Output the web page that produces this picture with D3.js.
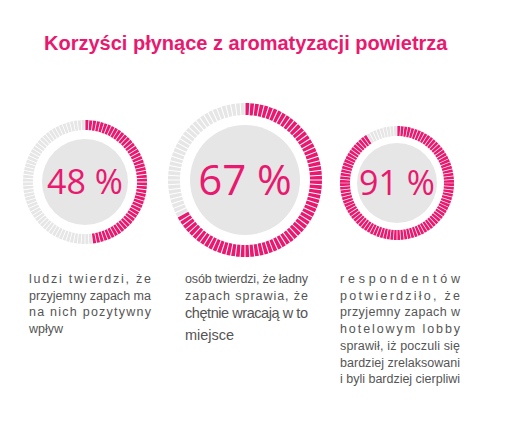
<!DOCTYPE html>
<html><head><meta charset="utf-8">
<script src="https://cdn.jsdelivr.net/npm/d3@7"></script>
<style>body{margin:0;background:#fff}</style></head>
<body><div id="chart"></div>
<script>
const title = 'Korzyści płynące z aromatyzacji powietrza';
const values = [48, 67, 91];
const valueLabels = ['48 %', '67 %', '91 %'];
const captions = [
  ['ludzi twierdzi, że', 'przyjemny zapach ma', 'na nich pozytywny', 'wpływ'],
  ['osób twierdzi, że ładny', 'zapach sprawia, że', 'chętnie wracają w to', 'miejsce'],
  ['respondentów', 'potwierdziło, że', 'przyjemny zapach w', 'hotelowym lobby', 'sprawił, iż poczuli się', 'bardziej zrelaksowani', 'i byli bardziej cierpliwi']
];

const PINK = '#e8196f', GREY = '#e6e6e6', TEXT = '#555';
const W = 511, H = 434;
const SEGMENTS = 100; // number of ticks around each ring

// ring layout: [cx, cy, outer r, ring width, inner disc r, font size]
const rings = [
  [85, 182, 62, 10, 43, 34],
  [245, 180, 77, 12, 55, 42],
  [397, 183, 57, 10, 40, 34]
];
const captionX = [[29, 151], [185, 308], [340, 460]];

const svg = d3.select('#chart').append('svg').attr('width', W).attr('height', H);

svg.append('text')
  .attr('x', 44).attr('y', 50)
  .attr('fill', PINK)
  .attr('font-family', 'Liberation Sans, Arial, sans-serif')
  .attr('font-weight', 'bold').attr('font-size', 20)
  .text(title);

const segScale = d3.scaleLinear().domain([0, SEGMENTS]).range([0, 2 * Math.PI]);

values.forEach((v, i) => {
  const [cx, cy, r, w, rd, fs] = rings[i];
  const g = svg.append('g').attr('transform', `translate(${cx},${cy})`);
  const arc = d3.arc().innerRadius(r - w).outerRadius(r).padAngle(0.01);

  g.selectAll('path')
    .data(d3.range(SEGMENTS))
    .join('path')
    .attr('d', d => arc({startAngle: segScale(d), endAngle: segScale(d + 1)}))
    .attr('fill', d => d < v ? PINK : GREY);

  g.append('circle').attr('r', rd).attr('fill', GREY);

  g.append('text')
    .attr('text-anchor', 'middle').attr('dy', fs * 0.36)
    .attr('fill', PINK)
    .attr('font-family', 'Open Sans, DejaVu Sans, sans-serif')
    .attr('font-size', fs)
    .text(valueLabels[i]);

  // justified caption lines
  const [x0, x1] = captionX[i];
  captions[i].forEach((line, j) => {
    const last = j === captions[i].length - 1;
    // the middle caption grows at its end, as in the original
    const big = i === 1 && j >= 2;
    const y = i === 1 && j === 3 ? 340 : 283 + j * 16.7 + (big ? 2 : 0);
    const t = svg.append('text')
      .attr('x', x0).attr('y', y)
      .attr('fill', TEXT)
      .attr('font-family', 'Liberation Sans, Arial, sans-serif')
      .attr('font-size', big ? 14.5 : 12.5)
      .text(line);
    if (!last || i === 2) t.attr('textLength', x1 - x0).attr('lengthAdjust', 'spacing');
  });
});
</script></body></html>
